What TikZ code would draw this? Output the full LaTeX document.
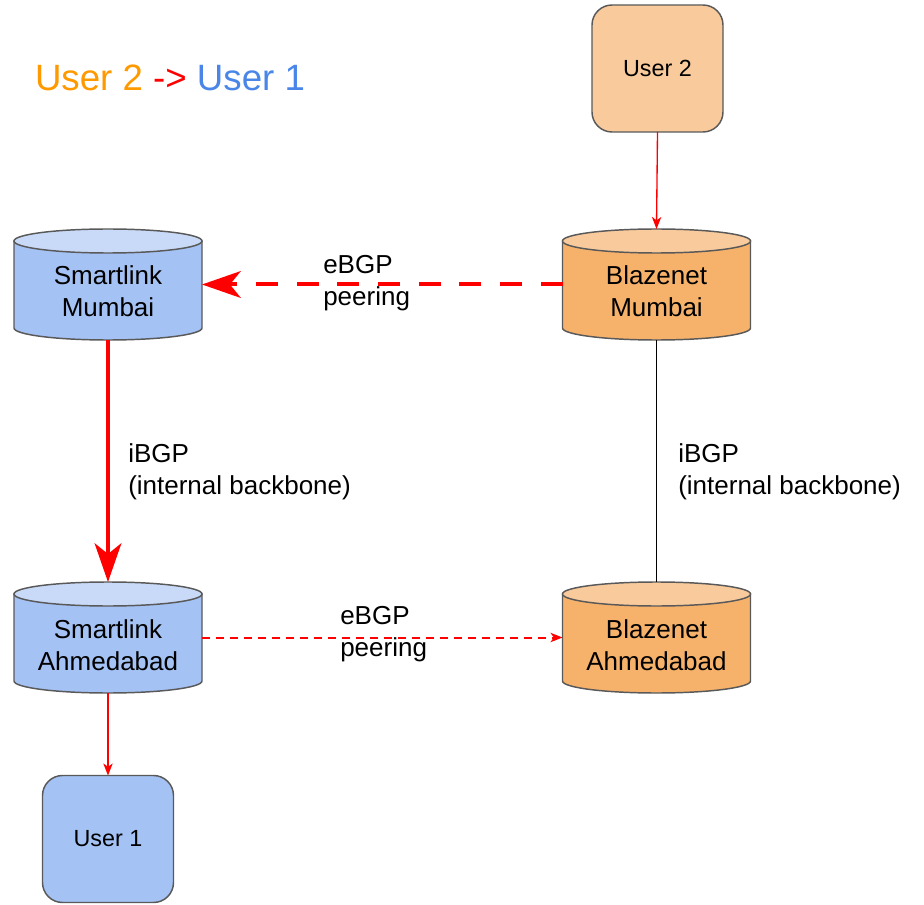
\documentclass[tikz,border=0pt]{standalone}
\usepackage{fontspec}
\setmainfont{Liberation Sans}
\usetikzlibrary{arrows.meta}
\pgfdeclarelayer{background}
\pgfsetlayers{background,main}
\definecolor{sbody}{HTML}{A4C2F4}
\definecolor{stop}{HTML}{C9DAF8}
\definecolor{bbody}{HTML}{F6B26B}
\definecolor{btop}{HTML}{F9CB9C}
\definecolor{edge}{HTML}{595959}
\definecolor{tor}{HTML}{FF9900}
\definecolor{tred}{HTML}{FF0000}
\definecolor{tblue}{HTML}{4A86E8}
\begin{document}
\begin{tikzpicture}[x=0.75pt,y=0.75pt,
 cylnode/.style={minimum width=141pt, minimum height=83.25pt, inner sep=0pt, outer sep=0pt},
 cyltext/.style={font=\fontsize{19.5pt}{24pt}\selectfont, align=center, inner sep=0pt},
 userbox/.style={draw=edge, line width=1.1pt, rounded corners=15pt, minimum width=98.25pt, minimum height=95.25pt, inner sep=0pt, outer sep=0pt, font=\fontsize{17.5pt}{21pt}\selectfont},
 lbl/.style={font=\fontsize{19.5pt}{24pt}\selectfont, align=left, anchor=west, inner sep=0pt},
 thinarrow/.style={draw=tred, color=tred, line width=1pt, -{Stealth[length=9pt,width=7pt,inset=2.5pt]}},
 thickarrow/.style={draw=tred, line width=3pt, -{Stealth[length=29pt,width=20pt,inset=8pt]}},
]
\useasboundingbox (0,0) rectangle (924,-905);

% title
\node[font=\fontsize{27.5pt}{33pt}\selectfont, inner sep=0pt] (title) at (170,-78)
  {\textcolor{tor}{User 2} \textcolor{tred}{->} \textcolor{tblue}{User 1}};

% user boxes
\node[userbox, fill=btop] (u2) at (657.5,-68.5) {User 2};
\node[userbox, fill=sbody] (u1) at (108,-839) {User 1};

% cylinders
\node[cylnode] (sm) at (108,-284.5) {};
\node[cylnode] (bm) at (656.5,-284.5) {};
\node[cylnode] (sa) at (108,-637.5) {};
\node[cylnode] (ba) at (656.5,-637.5) {};

\node[cyltext] (smt) at (108,-291) {Smartlink\\Mumbai};
\node[cyltext] (bmt) at (656.5,-291) {Blazenet\\Mumbai};
\node[cyltext] (sat) at (108,-645) {Smartlink\\Ahmedabad};
\node[cyltext] (bat) at (656.5,-645) {Blazenet\\Ahmedabad};

\begin{pgfonlayer}{background}
\foreach \n/\b/\t in {sm/sbody/stop, bm/bbody/btop, sa/sbody/stop, ba/bbody/btop}{
 \path[fill=\b, draw=edge, line width=1.1pt] ([yshift=-9pt]\n.north west) -- ([yshift=9pt]\n.south west)
   arc[start angle=180, end angle=360, x radius=70.5pt, y radius=9pt] -- ([yshift=-9pt]\n.north east) -- cycle;
 \path[fill=\t, draw=edge, line width=1.1pt] ([yshift=-9pt]\n.north) ellipse[x radius=70.5pt, y radius=9pt];
}
\end{pgfonlayer}

% connectors
\draw[thinarrow] (u2.south) -- (bm.north);
\draw[thickarrow, dash pattern=on 16.5pt off 14pt] (bm.west) -- (sm.east);
\draw[thickarrow] (sm.south) -- (sa.north);
\draw[black, line width=0.75pt] (bm.south) -- (ba.north);
\draw[red, line width=1.5pt, dash pattern=on 6pt off 4.5pt, -{Stealth[length=9pt,width=7pt,inset=2.5pt]}] (sa.east) -- (ba.west);
\draw[thinarrow] (sa.south) -- (u1.north);

% labels
\node[lbl] (l1) at (323,-283) {eBGP\\peering};
\node[lbl] (l2) at (128,-472) {iBGP\\(internal backbone)};
\node[lbl] (l3) at (678,-472) {iBGP\\(internal backbone)};
\node[lbl] (l4) at (340,-634) {eBGP\\peering};
\end{tikzpicture}
\end{document}
